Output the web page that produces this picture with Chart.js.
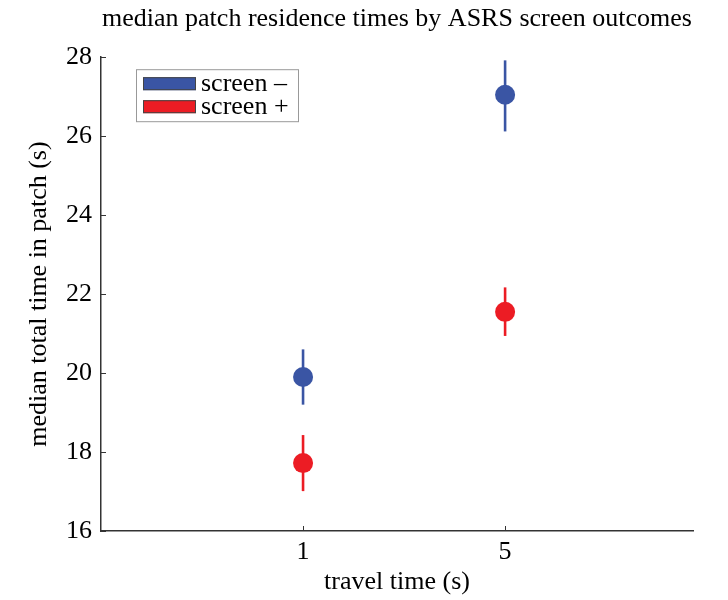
<!DOCTYPE html>
<html>
<head>
<meta charset="utf-8">
<script src="https://cdn.jsdelivr.net/npm/chart.js@4/dist/chart.umd.min.js"></script>
<style>
  html, body { margin: 0; padding: 0; background: #fff; }
  #wrap { width: 728px; height: 600px; }
</style>
</head>
<body>
<div id="wrap"><canvas id="c" width="728" height="600"></canvas></div>
<script>
// ---- data ----
const travelTimeLabels = ['1', '5'];
const travelTimePositions = [1, 2];
const seriesNames = ['screen \u2013', 'screen +'];
const screenNegMedian = [19.9, 27.05];
const screenNegLow = [19.2, 26.12];
const screenNegHigh = [20.6, 27.92];
const screenPosMedian = [17.72, 21.55];
const screenPosLow = [17.01, 20.94];
const screenPosHigh = [18.43, 22.17];
const yTicks = [16, 18, 20, 22, 24, 26, 28];

const BLUE = '#3a55a4';
const RED = '#ec1c24';
const FONT = "'Liberation Serif', 'Times New Roman', serif";

function pts(med, lo, hi) {
  return travelTimePositions.map((x, i) => ({ x: x, y: med[i], lo: lo[i], hi: hi[i] }));
}

const errorBarPlugin = {
  id: 'errorBars',
  beforeDatasetsDraw(chart) {
    const { ctx, scales: { x, y } } = chart;
    chart.data.datasets.forEach((ds) => {
      ctx.save();
      ctx.strokeStyle = ds.backgroundColor;
      ctx.lineWidth = 2.6;
      ds.data.forEach((p) => {
        const px = x.getPixelForValue(p.x);
        ctx.beginPath();
        ctx.moveTo(px, y.getPixelForValue(p.lo));
        ctx.lineTo(px, y.getPixelForValue(p.hi));
        ctx.stroke();
      });
      ctx.restore();
    });
  }
};

const axisTickPlugin = {
  id: 'inwardTicks',
  afterDraw(chart) {
    const { ctx, chartArea, scales: { x, y } } = chart;
    ctx.save();
    ctx.strokeStyle = '#333';
    ctx.lineWidth = 1;
    yTicks.forEach((v) => {
      const py = Math.round(y.getPixelForValue(v)) + 0.5;
      ctx.beginPath();
      ctx.moveTo(chartArea.left, py);
      ctx.lineTo(chartArea.left + 5, py);
      ctx.stroke();
    });
    travelTimePositions.forEach((v) => {
      const px = Math.round(x.getPixelForValue(v)) + 0.5;
      ctx.beginPath();
      ctx.moveTo(px, chartArea.bottom);
      ctx.lineTo(px, chartArea.bottom - 5);
      ctx.stroke();
    });
    ctx.restore();
  }
};

const legendBoxPlugin = {
  id: 'legendBox',
  afterDraw(chart) {
    const { ctx, chartArea } = chart;
    const bx = chartArea.left + 35, by = chartArea.top + 12;
    const bw = 162, bh = 52;
    ctx.save();
    ctx.fillStyle = '#fff';
    ctx.fillRect(bx, by, bw, bh);
    ctx.strokeStyle = '#999';
    ctx.lineWidth = 1;
    ctx.strokeRect(bx + 0.5, by + 0.5, bw, bh);
    ctx.font = "26px " + FONT;
    ctx.textBaseline = 'middle';
    chart.data.datasets.forEach((ds, i) => {
      const cy = by + 14 + i * 23;
      ctx.fillStyle = ds.backgroundColor;
      ctx.fillRect(bx + 7, cy - 6, 53, 13);
      ctx.strokeStyle = '#444';
      ctx.strokeRect(bx + 7.5, cy - 5.5, 52, 12);
      ctx.fillStyle = '#000';
      ctx.fillText(ds.label, bx + 65, cy + 1);
    });
    ctx.restore();
  }
};

new Chart(document.getElementById('c'), {
  type: 'scatter',
  data: {
    datasets: [
      { label: seriesNames[0], data: pts(screenNegMedian, screenNegLow, screenNegHigh),
        backgroundColor: BLUE, borderColor: BLUE, pointRadius: 10, pointHoverRadius: 10, borderWidth: 0 },
      { label: seriesNames[1], data: pts(screenPosMedian, screenPosLow, screenPosHigh),
        backgroundColor: RED, borderColor: RED, pointRadius: 10, pointHoverRadius: 10, borderWidth: 0 }
    ]
  },
  options: {
    responsive: false,
    animation: false,
    events: [],
    layout: { padding: { left: 0, right: 35, top: 0, bottom: 0 } },
    plugins: {
      legend: { display: false },
      tooltip: { enabled: false },
      title: {
        display: true,
        fullSize: false,
        text: 'median patch residence times by ASRS screen outcomes',
        color: '#000',
        font: { family: FONT, size: 26, weight: 'normal' },
        padding: { top: 4, bottom: 22 }
      }
    },
    scales: {
      x: {
        type: 'linear',
        min: 0,
        max: 2.93,
        afterBuildTicks(scale) { scale.ticks = travelTimePositions.map(v => ({ value: v })); },
        afterFit(scale) { scale.height = 69; },
        ticks: {
          color: '#000',
          font: { family: FONT, size: 26 },
          padding: 6,
          callback(value) {
            const i = travelTimePositions.indexOf(value);
            return i >= 0 ? travelTimeLabels[i] : '';
          }
        },
        grid: { display: true, drawOnChartArea: false, drawTicks: false },
        border: { display: true, color: '#333', width: 1.5 },
        title: {
          display: true,
          text: 'travel time (s)',
          color: '#000',
          font: { family: FONT, size: 26 },
          padding: { top: 0, bottom: 2 }
        }
      },
      y: {
        min: 16,
        max: 28,
        afterBuildTicks(scale) { scale.ticks = yTicks.map(v => ({ value: v })); },
        afterFit(scale) { scale.width = 101; },
        ticks: {
          color: '#000',
          font: { family: FONT, size: 26 },
          padding: 9
        },
        grid: { display: true, drawOnChartArea: false, drawTicks: false },
        border: { display: true, color: '#333', width: 1.5 },
        title: {
          display: true,
          text: 'median total time in patch (s)',
          color: '#000',
          font: { family: FONT, size: 26 },
          padding: { top: 24, bottom: 0 }
        }
      }
    }
  },
  plugins: [errorBarPlugin, axisTickPlugin, legendBoxPlugin]
});
</script>
</body>
</html>
